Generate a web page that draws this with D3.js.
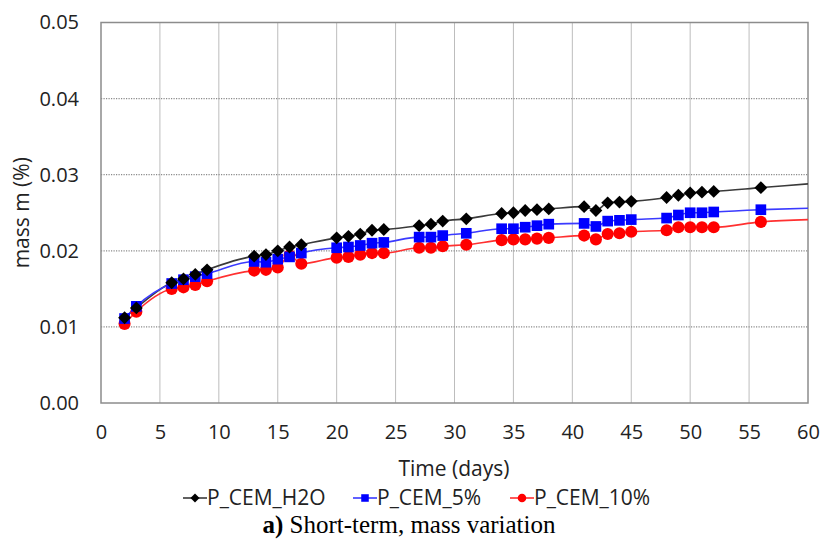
<!DOCTYPE html>
<html>
<head>
<meta charset="utf-8">
<script src="https://cdn.jsdelivr.net/npm/d3@7/dist/d3.min.js"></script>
<style>
  body { margin: 0; background: #fff; }
  #chart { width: 821px; height: 542px; }
</style>
</head>
<body>
<div id="chart"></div>
<script>
// ---- data ----
const days = [2, 3, 6, 7, 8, 9, 13, 14, 15, 16, 17, 20, 21, 22, 23, 24, 27, 28, 29, 31,
              34, 35, 36, 37, 38, 41, 42, 43, 44, 45, 48, 49, 50, 51, 52, 56];

const massH2O = [0.0112, 0.0125, 0.0158, 0.0163, 0.0169, 0.0175, 0.0193, 0.0195, 0.0200, 0.0205, 0.0208,
                 0.0217, 0.0219, 0.0222, 0.0227, 0.0228, 0.0233, 0.0235, 0.0239, 0.0242,
                 0.0249, 0.0250, 0.0253, 0.0254, 0.0255, 0.0258, 0.0253, 0.0263, 0.0264, 0.0265,
                 0.0270, 0.0273, 0.0276, 0.0277, 0.0278, 0.0283];
const mass5 = [0.0111, 0.0127, 0.0157, 0.0162, 0.0166, 0.0170, 0.0186, 0.0185, 0.0189, 0.0192, 0.0197,
               0.0204, 0.0205, 0.0207, 0.0210, 0.0211, 0.0218, 0.0218, 0.0220, 0.0223,
               0.0229, 0.0229, 0.0231, 0.0233, 0.0235, 0.0236, 0.0232, 0.0239, 0.0240, 0.0241,
               0.0243, 0.0247, 0.0250, 0.0250, 0.0251, 0.0254];
const mass10 = [0.0104, 0.0120, 0.0150, 0.0152, 0.0155, 0.0160, 0.0174, 0.0175, 0.0178, 0.0194, 0.0183,
                0.0191, 0.0192, 0.0195, 0.0197, 0.0197, 0.0204, 0.0204, 0.0206, 0.0208,
                0.0214, 0.0215, 0.0215, 0.0216, 0.0217, 0.0220, 0.0215, 0.0222, 0.0223, 0.0225,
                0.0227, 0.0231, 0.0231, 0.0231, 0.0231, 0.0238];

// trend lines run on past the last measurement to the axis end
const endDay = 60;
const endH2O = 0.0288;
const end5 = 0.0256;
const end10 = 0.0241;

const xTicks = [0, 5, 10, 15, 20, 25, 30, 35, 40, 45, 50, 55, 60];
const yTicks = [0, 0.01, 0.02, 0.03, 0.04, 0.05];

const seriesNames = ["P_CEM_H2O", "P_CEM_5%", "P_CEM_10%"];

// ----- layout -----
const W = 821, H = 542;
const margin = { top: 22.5, right: 13, bottom: 139, left: 101 };
const width = W - margin.left - margin.right;
const height = H - margin.top - margin.bottom;

const svg = d3.select("#chart")
  .append("svg")
  .attr("width", W)
  .attr("height", H);

const g = svg.append("g")
  .attr("transform", `translate(${margin.left},${margin.top})`);

// ----- scales -----
const x = d3.scaleLinear().domain([0, 60]).range([0, width]);
const y = d3.scaleLinear().domain([0, 0.05]).range([height, 0]);

const tickFont = "'Open Sans', sans-serif";

// ----- grid -----
g.append("g")
  .selectAll("line")
  .data(xTicks.slice(1, -1))
  .enter()
  .append("line")
  .attr("x1", d => x(d)).attr("x2", d => x(d))
  .attr("y1", 0).attr("y2", height)
  .attr("stroke", "#bdbdbd")
  .attr("stroke-width", 1);

g.append("g")
  .selectAll("line")
  .data(yTicks.slice(1, -1))
  .enter()
  .append("line")
  .attr("x1", 0).attr("x2", width)
  .attr("y1", d => y(d)).attr("y2", d => y(d))
  .attr("stroke", "#8a8a8a")
  .attr("stroke-width", 1.2)
  .attr("stroke-dasharray", "1.2,1.3");

// plot frame
g.append("rect")
  .attr("x", 0).attr("y", 0)
  .attr("width", width).attr("height", height)
  .attr("fill", "none")
  .attr("stroke", "#8c8c8c")
  .attr("stroke-width", 1.5);

// ----- axes (labels only, frame drawn above) -----
const xAxis = g.append("g")
  .attr("transform", `translate(0,${height})`)
  .call(d3.axisBottom(x).tickValues(xTicks).tickSize(0).tickPadding(22).tickFormat(d3.format("d")));
xAxis.select(".domain").remove();
xAxis.selectAll("text")
  .style("font-family", tickFont)
  .style("font-size", "20px")
  .style("fill", "#222");

const yAxis = g.append("g")
  .call(d3.axisLeft(y).tickValues(yTicks).tickSize(0).tickPadding(22).tickFormat(d3.format(".2f")));
yAxis.select(".domain").remove();
yAxis.selectAll("text")
  .style("font-family", tickFont)
  .style("font-size", "20px")
  .style("fill", "#222");

// axis titles
svg.append("text")
  .attr("x", margin.left + width / 2 - 0.5)
  .attr("y", 476)
  .attr("text-anchor", "middle")
  .style("font-family", tickFont)
  .style("font-size", "21px")
  .style("fill", "#222")
  .text("Time (days)");

svg.append("text")
  .attr("transform", `translate(29,${margin.top + height / 2}) rotate(-90)`)
  .attr("text-anchor", "middle")
  .style("font-family", tickFont)
  .style("font-size", "21px")
  .style("fill", "#222")
  .text("mass m (%)");

// ----- series -----
const series = [
  { name: seriesNames[0], values: massH2O, end: endH2O, color: "#000000", line: "#3a3a3a", shape: d3.symbolDiamond2, size: 105 },
  { name: seriesNames[1], values: mass5, end: end5, color: "#0000ff", line: "#3a3aff", shape: d3.symbolSquare2, size: 145 },
  { name: seriesNames[2], values: mass10, end: end10, color: "#ff0000", line: "#ff3030", shape: d3.symbolCircle, size: 115 }
];

const line = d3.line()
  .x(d => x(d[0]))
  .y(d => y(d[1]))
  .curve(d3.curveMonotoneX);

// draw lines first (all), then markers in reverse so black sits on top
series.forEach(s => {
  const pts = days.map((d, i) => [d, s.values[i]]).concat([[endDay, s.end]]);
  g.append("path")
    .datum(pts)
    .attr("d", line)
    .attr("fill", "none")
    .attr("stroke", s.line)
    .attr("stroke-width", 1.6);
});

series.slice().reverse().forEach(s => {
  g.append("g")
    .selectAll("path")
    .data(days.map((d, i) => [d, s.values[i]]))
    .enter()
    .append("path")
    .attr("transform", d => `translate(${x(d[0])},${y(d[1])})`)
    .attr("d", d3.symbol().type(s.shape).size(s.size))
    .attr("fill", s.color);
});

// ----- legend -----
const legendX = [183, 353, 510];
const legendY = 498;
series.forEach((s, i) => {
  const lg = svg.append("g").attr("transform", `translate(${legendX[i]},${legendY})`);
  lg.append("line")
    .attr("x1", 0).attr("x2", 24)
    .attr("y1", 0).attr("y2", 0)
    .attr("stroke", s.line)
    .attr("stroke-width", 1.6);
  lg.append("path")
    .attr("transform", "translate(12,0)")
    .attr("d", d3.symbol().type(s.shape).size(s.size * 0.5))
    .attr("fill", s.color);
  lg.append("text")
    .attr("x", 24)
    .attr("y", 7)
    .style("font-family", tickFont)
    .style("font-size", "21px")
    .style("fill", "#222")
    .text(s.name);
});

// ----- caption -----
const caption = svg.append("text")
  .attr("x", 409)
  .attr("y", 533)
  .attr("text-anchor", "middle")
  .style("font-family", "'Liberation Serif', 'Times New Roman', serif")
  .style("font-size", "25px")
  .style("fill", "#000");
caption.append("tspan").style("font-weight", "bold").text("a)");
caption.append("tspan").text(" Short-term, mass variation");
</script>
</body>
</html>
